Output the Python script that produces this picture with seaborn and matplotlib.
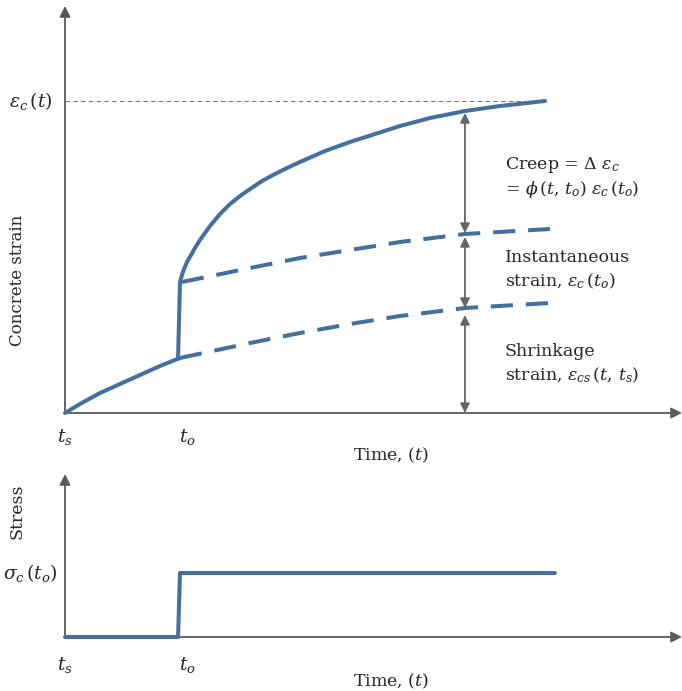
import numpy as np
import pandas as pd
import matplotlib
matplotlib.use("Agg")
import matplotlib.pyplot as plt
import seaborn as sns

# ---------------- data ----------------
# time axis: t_s = 0, t_o = 1 (arbitrary units)
shr_early_t = [0.0, 0.130, 0.304, 0.478, 0.652, 0.826, 1.0]
shr_early_e = [0.0, 0.09, 0.20, 0.29, 0.38, 0.47, 0.55]

shr_late_t = [1.0, 1.609, 2.043, 2.478, 2.913, 3.478, 4.217]
shr_late_e = [0.55, 0.70, 0.80, 0.89, 0.97, 1.05, 1.10]

inst_t = [1.017, 1.609, 2.043, 2.478, 2.913, 3.478, 4.217]
inst_e = [1.31, 1.45, 1.55, 1.63, 1.71, 1.79, 1.84]

total_t = [0.983, 1.0, 1.017, 1.035, 1.061, 1.096, 1.130, 1.174, 1.261, 1.348, 1.435,
           1.522, 1.609, 1.713, 1.826, 1.930, 2.043, 2.261, 2.478, 2.696,
           2.913, 3.174, 3.478, 3.783, 4.174]
total_e = [0.55, 1.31, 1.38, 1.44, 1.51, 1.58, 1.65, 1.73, 1.87, 1.99, 2.09,
           2.17, 2.24, 2.32, 2.39, 2.45, 2.51, 2.62, 2.71, 2.79,
           2.87, 2.95, 3.02, 3.07, 3.12]

eps_final = 3.12
arrow_t = 3.478
arrow_spans = [(3.00, 1.80), (1.76, 1.05), (0.98, 0.0)]

stress_t = [0.0, 0.983, 1.0, 4.26]
stress_v = [0.0, 0.0, 0.64, 0.64]

t_ticks = [0.0, 1.0]
t_labels = [r"$t_s$", r"$t_o$"]

# ---------------- style ----------------
sns.set_style("white")
plt.rcParams["font.family"] = ["DejaVu Serif"]
plt.rcParams["mathtext.fontset"] = "dejavuserif"

BLUE = "#44709f"
GRAY = "#595959"
FS = 12.5
LW = 2.9

W, H = 682, 691
fig = plt.figure(figsize=(W / 100, H / 100), dpi=100)

def px_axes(x0, x1, ytop, ybot):
    return fig.add_axes([x0 / W, (H - ybot) / H, (x1 - x0) / W, (ybot - ytop) / H])

ax1 = px_axes(65, 682, 6, 413)
ax2 = px_axes(65, 682, 474, 637)

XMAX = (682 - 65) / 115.0
ax1.set_xlim(0, XMAX)
ax1.set_ylim(0, (413 - 6) / 100.0)
ax2.set_xlim(0, XMAX)
ax2.set_ylim(0, (637 - 474) / 100.0)

for ax in (ax1, ax2):
    for s in ax.spines.values():
        s.set_visible(False)
    ax.set_xticks([])
    ax.set_yticks([])
    ax.set_xlabel("")
    ax.set_ylabel("")
    ax.annotate("", xy=(1, 0), xytext=(0, 0), xycoords="axes fraction",
                arrowprops=dict(arrowstyle="-|>", color=GRAY, lw=1.3,
                                mutation_scale=16, shrinkA=0, shrinkB=0), zorder=1)
    ax.annotate("", xy=(0, 1), xytext=(0, 0), xycoords="axes fraction",
                arrowprops=dict(arrowstyle="-|>", color=GRAY, lw=1.3,
                                mutation_scale=16, shrinkA=0, shrinkB=0), zorder=1)

# ---------------- top panel ----------------
dash = (0, (5.5, 3.2))
sns.lineplot(x=shr_early_t, y=shr_early_e, ax=ax1, color=BLUE, lw=LW, sort=False,
             estimator=None)
sns.lineplot(x=shr_late_t, y=shr_late_e, ax=ax1, color=BLUE, lw=LW, sort=False,
             estimator=None, linestyle=dash)
sns.lineplot(x=inst_t, y=inst_e, ax=ax1, color=BLUE, lw=LW, sort=False,
             estimator=None, linestyle=dash)
sns.lineplot(x=total_t, y=total_e, ax=ax1, color=BLUE, lw=LW, sort=False,
             estimator=None)
for l in ax1.lines:
    l.set_clip_on(False)
    l.set_dash_capstyle("butt")
    l.set_solid_joinstyle("round")

ax1.plot([0, total_t[-1]], [eps_final, eps_final], color="#777777", lw=0.8,
         linestyle=(0, (4, 3)), zorder=0)

for top, bot in arrow_spans:
    ax1.annotate("", xy=(arrow_t, top), xytext=(arrow_t, bot),
                 arrowprops=dict(arrowstyle="<|-|>", color="#666666", lw=1.3,
                                 mutation_scale=14, shrinkA=0, shrinkB=0))

tx = (505 - 65) / 115.0
ax1.text(tx, (413 - 165) / 100, "Creep = Δ $\\varepsilon_c$", fontsize=FS, va="center", ha="left")
ax1.text(tx, (413 - 190) / 100, "= $\\phi\\,(t,\\, t_o)\\; \\varepsilon_c\\,(t_o)$", fontsize=FS,
         va="center", ha="left")
ax1.text(tx, (413 - 257) / 100, "Instantaneous", fontsize=FS, va="center", ha="left")
ax1.text(tx, (413 - 281) / 100, "strain, $\\varepsilon_c\\,(t_o)$", fontsize=FS, va="center", ha="left")
ax1.text(tx, (413 - 351) / 100, "Shrinkage", fontsize=FS, va="center", ha="left")
ax1.text(tx, (413 - 375) / 100, "strain, $\\varepsilon_{cs}\\,(t,\\, t_s)$", fontsize=FS,
         va="center", ha="left")

ax1.text(-12 / 115, eps_final, "$\\varepsilon_c\\,(t)$", fontsize=FS + 1, va="center", ha="right")
ax1.text(-47 / 115, (413 - 280) / 100, "Concrete strain", fontsize=FS - 0.5, rotation=90,
         va="center", ha="center")

for tv, lab in zip(t_ticks, t_labels):
    ax1.text(tv + 7 / 115 * tv, -24 / 100, lab, fontsize=FS + 1, va="center", ha="center")
    ax2.text(tv + 7 / 115 * tv, -28 / 100, lab, fontsize=FS + 1, va="center", ha="center")
ax1.text((391 - 65) / 115, -42 / 100, "Time, $(t)$", fontsize=FS, va="center", ha="center")

# ---------------- bottom panel ----------------
sns.lineplot(x=stress_t, y=stress_v, ax=ax2, color=BLUE, lw=LW, sort=False, estimator=None)
for l in ax2.lines:
    l.set_clip_on(False)
    l.set_zorder(3)

ax2.text(-7 / 115, stress_v[-1], "$\\sigma_c\\,(t_o)$", fontsize=FS + 1, va="center", ha="right")
ax2.text(-48 / 115, (637 - 511) / 100, "Stress", fontsize=FS, rotation=90,
         va="center", ha="center")
ax2.text((391 - 65) / 115, -44 / 100, "Time, $(t)$", fontsize=FS, va="center", ha="center")

fig.savefig("out.png", dpi=100)
